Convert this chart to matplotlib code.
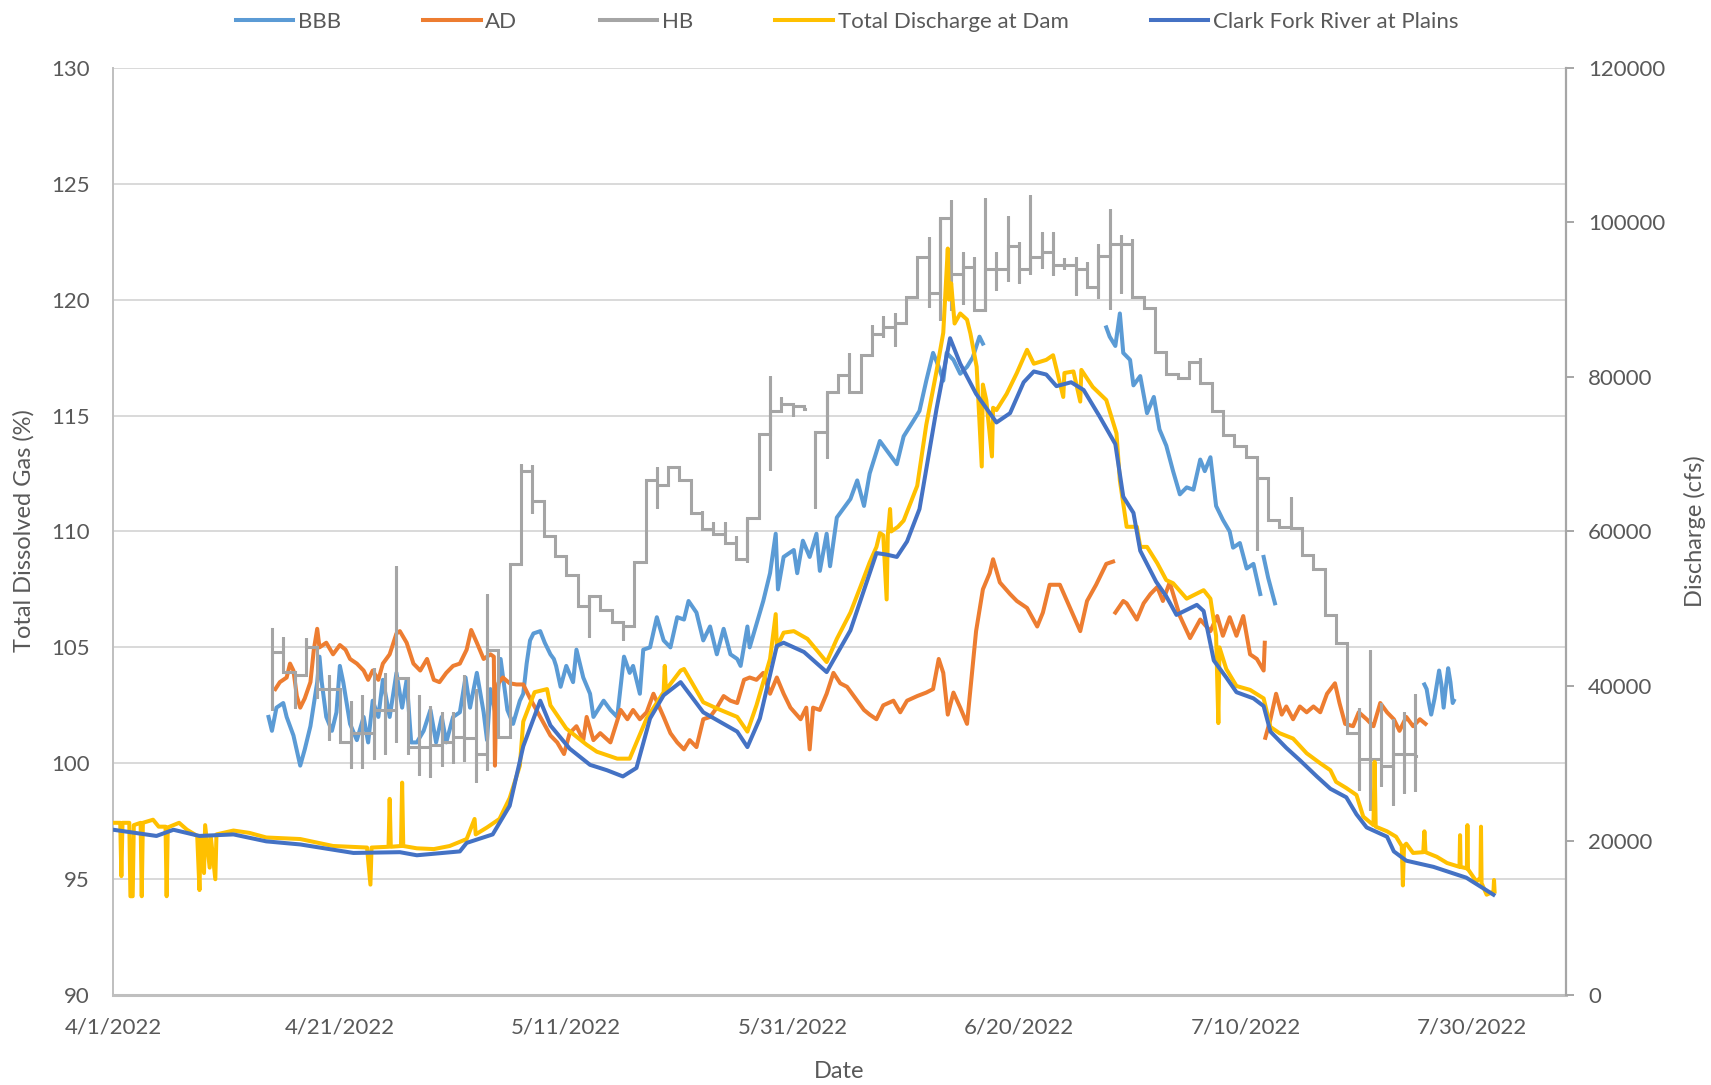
import matplotlib
matplotlib.use('Agg')
import matplotlib.pyplot as plt
import matplotlib.dates as mdates
from matplotlib.lines import Line2D
import numpy as np
import pandas as pd

plt.rcParams['font.family'] = ['Lato', 'DejaVu Sans']

# ---- data (days counted from 4/1/2022) ----
start_date = '2022-04-01'

# Clark Fork River at Plains, cfs
plains_day = [0, 3.8, 5.3, 7.6, 10.6, 13.5, 16.5, 21.2, 25.3, 26.8, 30.6, 31.2, 33.5, 35.0, 36.2, 37.7,
              38.6, 40.3, 42.1, 43.6, 45.0, 46.2, 47.4, 48.6, 50.1, 52.1, 55.1, 56.0, 57.1, 58.6, 59.2,
              61.0, 63.0, 65.1, 67.4, 68.3, 69.2, 70.1, 71.2, 72.7, 73.9, 74.8, 76.2, 78.0, 79.2, 80.4,
              81.3, 82.4, 83.3, 84.6, 85.7, 87.1, 88.5, 89.2, 90.1, 90.7, 92.1, 93.0, 93.9, 95.7, 96.3,
              97.2, 98.3, 99.2, 100.7, 101.6, 102.2, 103.6, 104.8, 106.3, 107.5, 108.9, 109.8, 110.7,
              112.5, 113.1, 114.2, 116.6, 119.5, 121.9]
plains_q = [21400, 20600, 21400, 20600, 20800, 19900, 19500, 18400, 18500, 18100, 18600, 19700, 20800,
            24500, 32200, 38100, 34900, 31900, 29800, 29100, 28300, 29400, 35800, 38800, 40500, 36600,
            34100, 32100, 35800, 45200, 45600, 44400, 41800, 47200, 57200, 57000, 56700, 58700, 62900,
            75800, 85000, 81700, 77800, 74100, 75300, 79300, 80700, 80300, 78800, 79300, 78300, 74900,
            71300, 64500, 62400, 57500, 53500, 51600, 49200, 50500, 49700, 43300, 41100, 39200, 38400,
            37400, 34100, 32000, 30400, 28300, 26700, 25600, 23400, 21700, 20500, 18600, 17400, 16600,
            15200, 13000]

# Total Discharge at Dam, cfs
dam_day = [0, 0.6, 0.7, 0.8, 1.4, 1.5, 1.7, 1.8, 2.4, 2.5, 2.6, 3.5, 4.0, 4.6, 4.7, 4.8, 5.8, 6.5,
           7.4, 7.6, 7.7, 8.0, 8.1, 8.5, 8.6, 9.0, 9.1, 10.6, 12.0, 13.5, 16.5, 19.4, 22.4, 22.7, 22.8,
           24.3, 24.4, 24.5, 25.4, 25.5, 25.6, 26.8, 28.3, 29.7, 31.2, 31.9, 32.0, 33.0, 34.1, 35.0,
           35.9, 36.2, 37.2, 38.3, 38.6, 40.0, 41.8, 42.7, 44.5, 45.6, 47.1, 48.6, 48.7, 48.8, 50.1,
           50.4, 52.1, 53.3, 55.1, 56.0, 56.8, 58.0, 58.5, 58.6, 59.2, 60.1, 61.3, 63.0, 63.9, 65.1,
           66.0, 66.8, 67.4, 67.7, 68.0, 68.3, 68.4, 68.6, 68.7, 69.3, 69.8, 71.0, 71.8, 72.7, 73.3,
           73.7, 73.8, 74.0, 74.3, 74.8, 75.4, 75.7, 76.25, 76.7, 76.8, 77.1, 77.6, 77.7, 78.0, 78.9,
           79.8, 80.7, 81.3, 82.4, 83.0, 83.9, 84.0, 84.8, 85.4, 85.5, 86.5, 87.7, 88.6, 88.9, 89.5,
           90.4, 90.7, 91.3, 92.2, 93.0, 93.6, 94.8, 96.3, 96.9, 97.4, 97.6, 97.7, 98.3, 99.2, 100.4,
           101.6, 102.2, 103.0, 104.2, 105.4, 106.6, 107.5, 108.0, 108.9, 109.8, 110.4, 111.3, 111.4,
           111.5, 112.5, 113.3, 113.8, 113.9, 114.0, 114.2, 114.8, 115.7, 115.8, 115.9, 116.9, 117.8,
           118.9, 118.95, 119.0, 119.55, 119.6, 119.65, 120.4, 120.75, 120.8, 120.85, 121.3, 121.9,
           121.95, 122.0]
dam_q = [22300, 22300, 15400, 22300, 22300, 12800, 12800, 22000, 22300, 12800, 22300, 22700, 21800,
         21800, 12800, 21700, 22300, 21400, 20600, 13600, 20600, 15800, 22000, 16500, 20500, 15000,
         20800, 21300, 21000, 20400, 20200, 19300, 19100, 14300, 19100, 19200, 25400, 19200, 19300,
         27500, 19300, 19000, 18900, 19300, 20200, 22800, 20800, 21700, 22800, 25500, 29700, 35400,
         39200, 39600, 37500, 34500, 32400, 31500, 30600, 30600, 35800, 39200, 42600, 39500, 42000,
         42200, 37900, 37100, 36000, 34100, 37500, 43500, 49300, 45000, 46900, 47100, 46100, 43100,
         46100, 49500, 52900, 56000, 58000, 59800, 59500, 51200, 59500, 62900, 60000, 60600, 61400,
         65900, 73800, 80700, 85700, 96600, 90000, 92100, 86900, 88200, 87400, 85600, 81300, 68400,
         79000, 77000, 69700, 76000, 75700, 77800, 80500, 83500, 81700, 82200, 82800, 77400, 80500,
         80700, 76800, 80900, 78700, 77000, 72700, 66600, 60600, 60600, 58000, 58000, 55900, 53700,
         53300, 51300, 52400, 51300, 46500, 35200, 45000, 42200, 40000, 39500, 38400, 34700, 33900,
         33200, 31300, 30000, 29100, 27600, 26800, 25900, 23100, 22000, 30200, 21800, 21200, 20500,
         19300, 14200, 19300, 19600, 18400, 18500, 21200, 18500, 17900, 17100, 16600, 20700, 16600,
         16400, 22000, 16300, 14700, 15200, 21800, 14500, 13000, 13400, 14900, 13400]

# BBB, % TDG (nan = gap in record)
nan = np.nan
bbb_day = [13.7, 14.0, 14.4, 15.0, 15.3, 15.9, 16.5, 16.9, 17.4, 18.0, 18.2, 18.4, 18.8, 19.3, 19.7,
           20.0, 20.3, 20.9, 21.5, 22.1, 22.5, 22.9, 23.4, 23.8, 24.4, 25.0, 25.5, 25.9, 26.3, 26.8,
           27.4, 28.0, 28.5, 29.0, 29.4, 30.0, 30.6, 31.1, 31.5, 32.1, 32.7, 33.0, 33.3, 33.8, 34.2,
           34.8, 35.3, 35.9, 36.2, 36.5, 36.8, 37.1, 37.7, 38.1, 38.6, 38.9, 39.1, 39.5, 40.0, 40.6,
           40.9, 41.5, 42.1, 42.4, 43.3, 43.9, 44.5, 45.1, 45.6, 45.9, 46.5, 46.8, 47.4, 48.0, 48.6,
           49.2, 49.8, 50.4, 50.8, 51.5, 52.1, 52.7, 53.3, 53.9, 54.5, 55.1, 55.4, 56.0, 56.2, 56.8,
           57.4, 58.0, 58.5, 58.7, 59.2, 60.1, 60.4, 60.9, 61.5, 62.1, 62.4, 63.0, 63.3, 63.9, 65.1,
           65.7, 66.3, 66.8, 67.7, 68.3, 69.2, 69.8, 70.7, 71.2, 71.8, 72.4, 72.9, 73.3, 73.6, 74.2,
           74.8, 75.4, 75.9, 76.5, 76.8, nan,
           87.7, 88.0, 88.5, 88.9, 89.2, 89.8, 90.1, 90.7, 91.3, 91.9, 92.4, 93.0, 93.6, 94.2, 94.8,
           95.4, 96.0, 96.4, 96.9, 97.4, 98.0, 98.6, 98.9, 99.5, 100.1, 100.7, 101.3, nan,
           101.6, 102.0, 102.6, nan,
           115.8, 116.0, 116.2, 116.4, 116.7, 116.9, 117.1, 117.3, 117.5, 117.7, 117.9, 118.1, 118.3,
           118.4]
bbb_tdg = [102.0, 101.4, 102.4, 102.6, 102.0, 101.2, 99.9, 100.6, 101.6, 103.5, 104.6, 103.5, 102.0,
           101.4, 102.2, 104.2, 103.5, 101.7, 101.0, 102.0, 100.9, 102.7, 102.0, 103.6, 102.0, 103.9,
           102.4, 103.6, 100.9, 100.9, 101.4, 102.3, 100.9, 102.0, 100.9, 102.0, 102.2, 103.7, 102.4,
           103.9, 102.2, 101.0, 103.2, 102.0, 104.5, 102.3, 101.7, 102.7, 103.0, 104.3, 105.3, 105.6,
           105.7, 105.2, 104.7, 104.5, 104.2, 103.3, 104.2, 103.5, 104.9, 103.7, 103.0, 102.0, 102.7,
           102.3, 102.0, 104.6, 103.9, 104.2, 103.0, 104.9, 105.0, 106.3, 105.3, 105.0, 106.3, 106.2,
           107.0, 106.5, 105.3, 105.9, 104.7, 105.8, 104.7, 104.5, 104.2, 105.9, 105.0, 106.0, 107.0,
           108.2, 109.9, 107.5, 108.9, 109.2, 108.2, 109.6, 108.9, 109.9, 108.3, 109.9, 108.5, 110.6,
           111.4, 112.2, 111.1, 112.5, 113.9, 113.5, 112.9, 114.1, 114.8, 115.2, 116.5, 117.7, 117.1,
           116.5, 117.7, 117.4, 116.8, 117.1, 117.5, 118.4, 118.1, nan,
           118.8, 118.4, 118.0, 119.4, 117.7, 117.4, 116.3, 116.7, 115.1, 115.8, 114.4, 113.7, 112.6,
           111.6, 111.9, 111.8, 113.1, 112.6, 113.2, 111.1, 110.5, 110.0, 109.3, 109.5, 108.4, 108.6,
           107.3, nan,
           108.9, 108.0, 106.9, nan,
           103.4, 103.2, 102.6, 102.1, 102.8, 103.4, 104.0, 103.4, 102.4, 103.3, 104.1, 103.5, 102.6,
           102.7]

# AD, % TDG
ad_day = [14.3, 14.7, 15.3, 15.6, 15.9, 16.2, 16.5, 16.9, 17.4, 17.7, 18.0, 18.2, 18.8, 19.4, 20.0,
          20.5, 20.9, 21.5, 22.1, 22.5, 22.9, 23.4, 23.8, 24.4, 25.0, 25.3, 25.9, 26.5, 27.1, 27.7,
          28.3, 28.8, 29.4, 30.0, 30.6, 31.2, 31.6, 32.1, 32.7, 33.3, 33.6, 33.7, 33.8, 34.0, 34.4,
          35.0, 35.6, 36.2, 36.8, 37.7, 38.6, 39.2, 39.8, 40.3, 40.9, 41.5, 41.8, 42.4, 43.0, 43.9,
          44.8, 45.4, 45.9, 46.5, 47.1, 47.7, 48.6, 49.2, 49.8, 50.4, 50.9, 51.5, 52.1, 52.7, 53.3,
          53.9, 54.5, 55.1, 55.7, 56.2, 56.8, 57.4, 58.0, 58.6, 59.2, 59.8, 60.7, 61.2, 61.5, 61.8,
          62.4, 63.0, 63.6, 64.2, 64.8, 65.7, 66.3, 66.8, 67.4, 68.0, 68.9, 69.5, 70.1, 71.0, 71.8,
          72.4, 72.9, 73.3, 73.7, 74.2, 74.8, 75.4, 75.8, 76.2, 76.8, 77.4, 77.7, 78.3, 79.2, 79.8,
          80.7, 81.6, 82.1, 82.7, 83.6, 84.5, 85.4, 86.0, 86.8, 87.7, 88.3, nan,
          88.5, 89.2, 89.5, 90.4, 91.0, 91.6, 92.2, 92.7, 93.3, 94.2, 95.1, 96.0, 96.9, 97.5, 98.0,
          98.6, 99.2, 99.8, 100.4, 101.0, 101.6, 101.7, nan,
          101.75, 102.2, 102.7, 103.2, 103.6, 104.2, 104.8, 105.4, 106.0, 106.6, 107.2, 107.9, 108.3,
          108.8, 109.5, 110.0, 110.7, 111.3, 111.9, 112.5, 113.1, 113.6, 114.2, 114.8, 115.4, 115.9]
ad_tdg = [103.2, 103.5, 103.7, 104.3, 104.0, 102.9, 102.4, 102.8, 103.5, 104.9, 105.8, 105.0, 105.2,
          104.7, 105.1, 104.9, 104.5, 104.3, 104.0, 103.6, 104.0, 103.6, 104.3, 104.7, 105.6, 105.7,
          105.2, 104.3, 104.0, 104.5, 103.6, 103.5, 103.9, 104.2, 104.3, 104.9, 105.75, 105.2, 104.5,
          104.7, 104.6, 99.9, 102.5, 103.45, 103.7, 103.45, 103.4, 103.4, 102.8, 102.0, 101.2, 100.9,
          100.4, 101.3, 101.6, 101.0, 102.0, 101.0, 101.3, 100.9, 102.3, 101.9, 102.3, 101.9, 102.2,
          103.0, 102.0, 101.3, 100.9, 100.6, 101.0, 100.7, 101.9, 102.0, 102.4, 102.9, 102.7, 102.6,
          103.6, 103.7, 103.6, 103.9, 103.0, 103.7, 103.0, 102.4, 101.9, 102.4, 100.6, 102.4, 102.3,
          103.0, 103.9, 103.45, 103.3, 102.7, 102.3, 102.1, 101.9, 102.5, 102.7, 102.2, 102.7, 102.9,
          103.05, 103.2, 104.5, 103.9, 102.1, 103.05, 102.4, 101.7, 103.7, 105.7, 107.5, 108.2, 108.8,
          107.8, 107.3, 107.0, 106.7, 105.9, 106.5, 107.7, 107.7, 106.7, 105.7, 107.0, 107.7, 108.6,
          108.7, nan,
          106.5, 107.0, 106.9, 106.2, 106.9, 107.3, 107.6, 107.0, 107.8, 106.35, 105.4, 106.2, 105.7,
          106.35, 105.5, 106.3, 105.5, 106.35, 104.7, 104.5, 104.0, 105.2, nan,
          101.1, 101.9, 103.0, 102.1, 102.45, 101.9, 102.45, 102.2, 102.45, 102.2, 103.0, 103.45,
          102.6, 101.7, 101.6, 102.2, 101.9, 101.6, 102.6, 102.2, 101.9, 101.4, 102.0, 101.6, 101.9,
          101.7]

# HB, % TDG: one reading per day, with the high / low reached at the day change
hb_day = list(range(14, 116))
hb_lvl = [104.8, 103.95, 103.8, 105.0, 103.2, 103.2, 100.9, 101.3, 101.3, 102.3, 102.3, 103.7, 100.7,
          100.7, 100.8, 100.9, 101.15, 101.1, 100.4, 104.9, 101.15, 108.6, 112.6, 111.3, 109.8, 108.95,
          108.1, 106.8, 107.2, 106.6, 106.1, 105.9, 108.7, 112.2, 112.0, 112.8, 112.2, 110.8, 110.1,
          109.9, 109.5, 108.8, 110.6, 114.2, 115.2, 115.5, 115.4, 115.3, 114.3, 116.0, 116.75, 116.0,
          117.6, 118.5, 118.8, 119.0, 120.1, 121.85, 120.3, 123.5, 121.1, 121.4, 119.55, 121.3, 121.3,
          122.3, 121.3, 121.85, 122.06, 121.5, 121.5, 121.3, 120.55, 121.9, 122.4, 122.4, 120.1,
          119.65, 117.75, 116.8, 116.6, 117.3, 116.4, 115.2, 114.15, 113.7, 113.2, 112.3, 110.5, 110.2,
          110.15, 109.0, 108.4, 106.4, 105.2, 101.3, 100.2, 100.2, 99.9, 100.4, 100.4, 100.3]
hb_hi = [105.8, 105.45, None, 105.4, None, 103.8, None, 102.7, 102.95, 104.1, 103.9, 108.5, 103.7,
         102.95, 102.45, 102.2, 102.2, 103.8, 103.2, 107.3, None, None, 112.9, 112.87, None, None,
         None, None, None, None, None, None, None, None, 112.8, None, None, None, 110.9, 110.4, 110.4,
         109.8, None, None, 116.7, 115.8, None, None, None, None, None, 117.7, None, 118.9, 119.3,
         119.4, None, None, 122.7, None, 124.3, 122.06, 121.85, 124.4, 122.06, 123.6, 122.5, 124.5,
         122.9, 122.9, 121.8, 121.85, 121.6, 122.4, 123.9, 122.8, 122.6, None, None, None, None, None,
         117.46, None, None, None, None, None, None, None, 111.5, None, None, None, None, None, 102.4,
         104.9, 102.6, 101.9, 102.2, 103.0]
hb_lo = [102.3, None, 102.4, None, 102.8, 101.0, None, 99.8, 99.8, 100.2, 100.4, 100.9, 100.4, 99.5,
         99.4, 99.9, 100.0, 100.1, 99.2, 99.7, None, None, None, 110.78, None, None, None, None, 105.46,
         None, None, 105.3, None, None, 111.0, None, None, None, None, None, None, None, 108.7, None,
         112.65, None, 115.0, None, 111.0, 113.15, None, None, None, None, 118.4, 118.0, None, None,
         119.7, 119.1, 119.55, 119.8, None, 119.5, 120.4, 120.8, 120.7, 121.1, 121.35, 121.06, 121.3,
         120.2, None, 120.05, 119.6, 120.3, None, None, None, None, None, None, None, None, None, None,
         None, 109.2, None, None, None, None, None, None, None, None, 98.85, 98.0, 99.0, 98.2, 98.7,
         98.8]
hb_stop = {61: 61.1, 115: 115.05}   # record breaks

x_ticks = ['4/1/2022', '4/21/2022', '5/11/2022', '5/31/2022', '6/20/2022', '7/10/2022', '7/30/2022']

# ---- build ----
x0 = mdates.date2num(pd.Timestamp(start_date))


def xd(days):
    return x0 + np.asarray(days, dtype=float)


# HB step path
hx, hy = [], []
prev = None
for d, v, h, l in zip(hb_day, hb_lvl, hb_hi, hb_lo):
    h = v if h is None else h
    l = v if l is None else l
    if prev is not None:
        hx.append(d); hy.append(prev)
    hx += [d, d, d]; hy += [h, l, v]
    if d in hb_stop:
        hx += [hb_stop[d], nan]; hy += [v, nan]
        prev = None
    else:
        prev = v

c_bbb, c_ad, c_hb, c_dam, c_pl = '#5B9BD5', '#ED7D31', '#A5A5A5', '#FFC000', '#4472C4'
txt = '#595959'
lw = 2.9

fig = plt.figure(figsize=(17.11, 10.85), dpi=100)
ax = fig.add_axes([0.0663, 0.0828, 0.8489, 0.8548])
ax2 = ax.twinx()

ax.plot(xd(bbb_day), bbb_tdg, color=c_bbb, lw=lw, solid_joinstyle='round')
ax.plot(xd(ad_day), ad_tdg, color=c_ad, lw=lw, solid_joinstyle='round')
ax.plot(xd(hx), hy, color=c_hb, lw=2.2, solid_joinstyle='miter')
ax2.plot(xd(dam_day), dam_q, color=c_dam, lw=lw, solid_joinstyle='round')
ax2.plot(xd(plains_day), plains_q, color=c_pl, lw=lw, solid_joinstyle='round')

ax.set_ylim(90, 130)
ax.set_yticks(range(90, 131, 5))
ax2.set_ylim(0, 120000)
ax2.set_yticks(range(0, 120001, 20000))
ax.set_xlim(x0, x0 + 128.3)
tick_pos = [mdates.date2num(pd.Timestamp(t)) for t in x_ticks]
ax.set_xticks(tick_pos)
ax.set_xticklabels(x_ticks)

ax.yaxis.grid(True, color='#D9D9D9', lw=1.4)
ax.set_axisbelow(True)

for s in ['top', 'right']:
    ax.spines[s].set_visible(False)
ax.spines['left'].set_color('#BFBFBF')
ax.spines['left'].set_linewidth(1.4)
ax.spines['bottom'].set_color('#BFBFBF')
ax.spines['bottom'].set_linewidth(2.2)
for s in ['top', 'left', 'bottom']:
    ax2.spines[s].set_visible(False)
ax2.spines['right'].set_color('#A6A6A6')
ax2.spines['right'].set_linewidth(1.6)

ax.tick_params(axis='y', length=0, pad=17, labelsize=16, labelcolor=txt)
ax.tick_params(axis='x', length=0, pad=16, labelsize=16, labelcolor=txt)
ax2.tick_params(axis='y', length=6, width=1.4, color='#A6A6A6', pad=10, labelsize=16, labelcolor=txt)

fig.text(0.014, 0.5106, 'Total Dissolved Gas (%)', rotation=90, ha='center', va='center',
         fontsize=17, color=txt)
fig.text(0.9906, 0.5106, 'Discharge (cfs)', rotation=90, ha='center', va='center',
         fontsize=17, color=txt)
fig.text(0.4904, 0.012, 'Date', ha='center', va='center', fontsize=17, color=txt)

handles = [Line2D([], [], color=c, lw=lw) for c in [c_bbb, c_ad, c_hb, c_dam, c_pl]]
labels = ['BBB', 'AD', 'HB', 'Total Discharge at Dam', 'Clark Fork River at Plains']
leg = fig.legend(handles, labels, loc='center', bbox_to_anchor=(0.495, 0.98), ncol=5,
                 frameon=False, handlelength=2.6, columnspacing=3.7, handletextpad=0.2,
                 fontsize=16)
for t in leg.get_texts():
    t.set_color(txt)

fig.savefig('out.png', dpi=100)
